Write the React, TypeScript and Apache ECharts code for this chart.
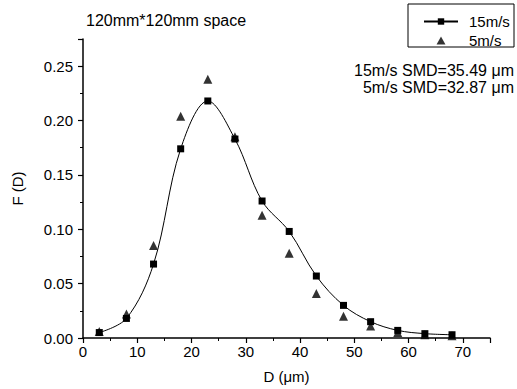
import React, { useEffect, useRef } from "react";
import * as echarts from "echarts";

const diameters = [3, 8, 13, 18, 23, 28, 33, 38, 43, 48, 53, 58, 63, 68];
const f15 = [0.005, 0.018, 0.068, 0.174, 0.218, 0.183, 0.126, 0.098, 0.057, 0.030, 0.015, 0.007, 0.004, 0.003];
const f5 = [0.006, 0.022, 0.085, 0.204, 0.238, 0.185, 0.113, 0.078, 0.041, 0.020, 0.011, 0.005, 0.003, 0.002];
const seriesNames = ["15m/s", "5m/s"];
const annotations = ["15m/s SMD=35.49 \u03bcm", "5m/s SMD=32.87 \u03bcm"];
const titleText = "120mm*120mm space";

export default function App() {
  const ref = useRef<HTMLDivElement>(null);
  useEffect(() => {
    const chart = echarts.init(ref.current!, null, { renderer: "svg" });
    const font = "Liberation Sans, Arial, sans-serif";
    chart.setOption({
      animation: false,
      backgroundColor: "#fff",
      textStyle: { fontFamily: font, color: "#000" },
      grid: { left: 83, right: 27, top: 39, bottom: 51, containLabel: false },
      xAxis: {
        type: "value",
        min: 0,
        max: 75,
        interval: 10,
        name: "D (\u03bcm)",
        nameLocation: "middle",
        nameGap: 31,
        nameTextStyle: { fontSize: 15, color: "#000", fontFamily: font },
        axisLine: { show: true, lineStyle: { color: "#000", width: 1.5 } },
        axisTick: { show: true, inside: false, length: 5, lineStyle: { color: "#000", width: 1.2 } },
        minorTick: { show: true, splitNumber: 2, length: 3, lineStyle: { color: "#000", width: 1 } },
        splitLine: { show: false },
        axisLabel: { fontSize: 15, color: "#000", margin: 6, showMaxLabel: false, fontFamily: font },
      },
      yAxis: {
        type: "value",
        min: 0,
        max: 0.275,
        interval: 0.05,
        name: "F (D)",
        nameLocation: "middle",
        nameGap: 58,
        nameRotate: 90,
        nameTextStyle: { fontSize: 15, color: "#000", fontFamily: font },
        axisLine: { show: true, lineStyle: { color: "#000", width: 1.5 } },
        axisTick: { show: true, inside: false, length: 5, lineStyle: { color: "#000", width: 1.2 } },
        minorTick: { show: true, splitNumber: 2, length: 3, lineStyle: { color: "#000", width: 1 } },
        splitLine: { show: false },
        axisLabel: {
          fontSize: 15,
          color: "#000",
          margin: 10,
          showMaxLabel: false,
          fontFamily: font,
          formatter: (v: number) => v.toFixed(2),
        },
      },
      legend: {
        orient: "vertical",
        left: 418,
        top: 9,
        itemWidth: 34,
        itemHeight: 8,
        itemGap: 4,
        symbolKeepAspect: true,
        textStyle: { fontSize: 15, color: "#000", fontFamily: font, padding: [0, 0, 0, 6] },
        data: [
          { name: seriesNames[0] },
          { name: seriesNames[1], icon: "path://M5,0L10,9L0,9Z" },
        ],
      },
      graphic: [
        {
          type: "rect",
          shape: { x: 408, y: 4, width: 106, height: 43 },
          style: { fill: "none", stroke: "#000", lineWidth: 1 },
          silent: true,
        },
        {
          type: "text",
          x: 86,
          y: 12,
          style: { text: titleText, fontSize: 16, fill: "#000", fontFamily: font },
        },
        {
          type: "text",
          x: 514,
          y: 62,
          style: { text: annotations[0], fontSize: 16, fill: "#000", fontFamily: font, textAlign: "right" },
        },
        {
          type: "text",
          x: 514,
          y: 79,
          style: { text: annotations[1], fontSize: 16, fill: "#000", fontFamily: font, textAlign: "right" },
        },
      ],
      series: [
        {
          name: seriesNames[0],
          type: "line",
          smooth: 0.35,
          data: diameters.map((d, i) => [d, f15[i]]),
          symbol: "rect",
          symbolSize: 7,
          itemStyle: { color: "#000" },
          lineStyle: { color: "#000", width: 1 },
          z: 3,
        },
        {
          name: seriesNames[1],
          type: "scatter",
          data: diameters.map((d, i) => [d, f5[i]]),
          symbol: "triangle",
          symbolSize: 9,
          itemStyle: { color: "#000" },
          z: 4,
        },
      ],
    });
    return () => chart.dispose();
  }, []);
  return <div ref={ref} style={{ position: "absolute", left: 0, top: 0, width: 517, height: 389 }} />;
}
